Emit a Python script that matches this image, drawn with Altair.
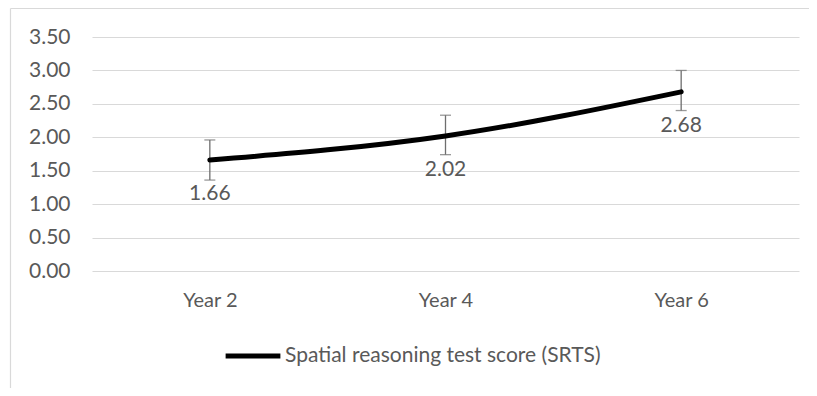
import altair as alt
import pandas as pd

years = ["Year 2", "Year 4", "Year 6"]
scores = [1.66, 2.02, 2.68]
err_low = [1.36, 1.74, 2.40]
err_high = [1.96, 2.33, 3.00]
series_name = "Spatial reasoning test score (SRTS)"
y_ticks = [0, 0.5, 1.0, 1.5, 2.0, 2.5, 3.0, 3.5]

df = pd.DataFrame({
    "year": years,
    "score": scores,
    "lo": err_low,
    "hi": err_high,
    "series": [series_name] * len(years),
})

FONT = "Lato"
GREY = "#595959"

x = alt.X("year:N", sort=years, title=None,
          scale=alt.Scale(type="point", padding=0.5),
          axis=alt.Axis(labelAngle=0, domain=False, ticks=False, labelPadding=19,
                        labelFontSize=20, labelColor=GREY, labelFont=FONT, grid=False))
y_scale = alt.Scale(domain=[0, 3.5], nice=False)
y_axis = alt.Axis(values=y_ticks, format=".2f", domain=False, ticks=False,
                  labelPadding=22, labelFontSize=21, labelColor=GREY, labelFont=FONT,
                  labelOverlap=False, grid=True, gridColor="#D9D9D9", gridWidth=1.2)


def yenc(field):
    return alt.Y(field, scale=y_scale, title=None, axis=y_axis)


base = alt.Chart(df)
one = alt.Chart(pd.DataFrame({"a": [0]}))

border_top = one.mark_rule(color="#D9D9D9", strokeWidth=1.2).encode(
    x=alt.value(-81.5), x2=alt.value(717), y=alt.value(-28.5))
border_left = one.mark_rule(color="#D9D9D9", strokeWidth=1.2).encode(
    x=alt.value(-81.5), y=alt.value(-28.5), y2=alt.value(400))

bars = base.mark_rule(color="#6E6E6E", strokeWidth=1.3).encode(
    x=x, y=yenc("lo:Q"), y2="hi:Q")
caps_hi = base.mark_tick(color="#6E6E6E", thickness=1.3, size=11, orient="horizontal").encode(
    x=x, y=yenc("hi:Q"))
caps_lo = base.mark_tick(color="#6E6E6E", thickness=1.3, size=11, orient="horizontal").encode(
    x=x, y=yenc("lo:Q"))

line = base.mark_line(strokeWidth=5, interpolate="monotone", strokeCap="round").encode(
    x=x, y=yenc("score:Q"),
    color=alt.Color("series:N", scale=alt.Scale(range=["#000000"]),
                    legend=alt.Legend(title=None, orient="none", legendX=131, legendY=289,
                                      symbolType="stroke", symbolStrokeWidth=5,
                                      symbolSize=3000, labelFontSize=21, labelColor=GREY,
                                      labelFont=FONT, labelOffset=2, labelLimit=0,
                                      symbolOffset=0)))

labels = base.mark_text(dy=34, fontSize=21, color=GREY, font=FONT).encode(
    x=x, y=yenc("score:Q"), text=alt.Text("score:Q", format=".2f"))

chart = alt.layer(border_top, border_left, bars, caps_hi, caps_lo, line, labels).properties(
    width=707, height=234,
    autosize=alt.AutoSizeParams(type="none"),
    padding={"left": 84, "top": 29, "right": 10, "bottom": 117},
).configure_view(strokeWidth=0, stroke="transparent")

chart.save("out.html", embed_options={"renderer": "svg", "actions": False})
